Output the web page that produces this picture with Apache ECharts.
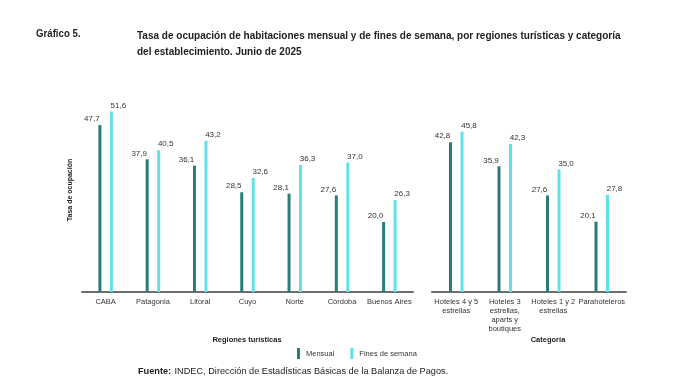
<!DOCTYPE html>
<html><head><meta charset="utf-8">
<script src="https://cdn.jsdelivr.net/npm/echarts@6/dist/echarts.min.js"></script>
<style>html,body{margin:0;padding:0;background:#fff}#c{width:695px;height:387px}</style>
</head><body><div id="c"></div>
<script>
const regiones = ['CABA','Patagonia','Litoral','Cuyo','Norte','Córdoba','Buenos Aires'];
const regMensual = [47.7, 37.9, 36.1, 28.5, 28.1, 27.6, 20.0];
const regFines = [51.6, 40.5, 43.2, 32.6, 36.3, 37.0, 26.3];
const categorias = ['Hoteles 4 y 5\nestrellas','Hoteles 3\nestrellas,\naparts y\nboutiques','Hoteles 1 y 2\nestrellas','Parahoteleros'];
const catMensual = [42.8, 35.9, 27.6, 20.1];
const catFines = [45.8, 42.3, 35.0, 27.8];
const seriesNames = ['Mensual','Fines de semana'];

const C1 = '#2b7b79', C2 = '#5fe1e8';
const fmt = p => p.value.toFixed(1).replace('.', ',');
const lab = (dx) => ({show:true, position:'top', distance:2, offset:[dx,0], formatter:fmt, fontSize:8, color:'#333', fontFamily:'Liberation Sans, Arial'});
const xa = (idx, data) => ({type:'category', gridIndex:idx, data:data, axisTick:{show:false},
  axisLine:{lineStyle:{color:'#6e6e6e', width:2}},
  axisLabel:{fontSize:7.5, color:'#333', margin:5, interval:0, lineHeight:9, fontFamily:'Liberation Sans, Arial'}});
const ya = (idx) => ({type:'value', gridIndex:idx, min:0, max:60, show:false, splitLine:{show:false}});
const bar = (name, xi, data, color, dx) => ({name, type:'bar', xAxisIndex:xi, yAxisIndex:xi, data, barWidth:3, barGap:'283%',
  itemStyle:{color}, label:lab(dx)});
const titleFont = 'bold 11.5px "Liberation Sans Narrow", "Liberation Sans", Arial';

const chart = echarts.init(document.getElementById('c'), null, {renderer:'canvas'});
chart.setOption({
  animation:false,
  grid:[{left:82, width:331, top:82, height:210},{left:432, width:194, top:82, height:210}],
  xAxis:[xa(0, regiones), xa(1, categorias)],
  yAxis:[ya(0), ya(1)],
  legend:{data:seriesNames, left:292, top:343, itemWidth:3, itemHeight:11, itemGap:16, icon:'rect',
    textStyle:{fontSize:7.5, color:'#333', fontFamily:'Liberation Sans, Arial', padding:[0,0,0,1]}},
  series:[
    bar(seriesNames[0], 0, regMensual, C1, -8),
    bar(seriesNames[1], 0, regFines, C2, 7),
    bar(seriesNames[0], 1, catMensual, C1, -8),
    bar(seriesNames[1], 1, catFines, C2, 7)
  ],
  graphic:[
    {type:'text', x:36, y:28, scaleX:0.84, style:{text:'Gráfico 5.', font:titleFont, fill:'#222'}},
    {type:'text', x:137, y:28, scaleX:0.87, style:{text:'Tasa de ocupación de habitaciones mensual y de fines de semana, por regiones turísticas y categoría\ndel establecimiento. Junio de 2025', lineHeight:16, font:titleFont, fill:'#222'}},
    {type:'text', x:70, y:190, rotation:Math.PI/2, style:{text:'Tasa de ocupación', align:'center', verticalAlign:'middle', font:'bold 7px "Liberation Sans", Arial', fill:'#222'}},
    {type:'text', x:247, y:340, style:{text:'Regiones turísticas', align:'center', verticalAlign:'middle', font:'bold 7.5px "Liberation Sans", Arial', fill:'#222'}},
    {type:'text', x:548, y:340, style:{text:'Categoría', align:'center', verticalAlign:'middle', font:'bold 7.5px "Liberation Sans", Arial', fill:'#222'}},
    {type:'text', left:138, top:365, style:{rich:{b:{font:'bold 9.2px "Liberation Sans", Arial', fill:'#222'}, n:{font:'9.2px "Liberation Sans", Arial', fill:'#222'}}, text:'{b|Fuente:} {n|INDEC, Dirección de Estadísticas Básicas de la Balanza de Pagos.}'}}
  ]
});
</script></body></html>
